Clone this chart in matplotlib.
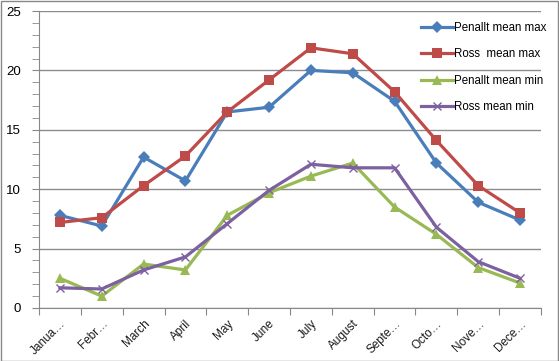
import matplotlib
matplotlib.use("Agg")
import matplotlib.pyplot as plt
from matplotlib.patches import Rectangle
import numpy as np

months = ["Janua…", "Febr…", "March", "April", "May", "June", "July",
          "August", "Septe…", "Octo…", "Nove…", "Dece…"]
penallt_max = [7.8, 6.9, 12.7, 10.7, 16.5, 16.9, 20.0, 19.8, 17.4, 12.2, 8.9, 7.4]
ross_max = [7.2, 7.6, 10.3, 12.8, 16.5, 19.2, 21.9, 21.4, 18.2, 14.1, 10.3, 8.0]
penallt_min = [2.5, 1.0, 3.7, 3.2, 7.8, 9.7, 11.1, 12.2, 8.5, 6.2, 3.4, 2.1]
ross_min = [1.7, 1.6, 3.2, 4.3, 7.1, 9.9, 12.1, 11.8, 11.8, 6.8, 3.9, 2.5]

series = [
    ("Penallt mean max", penallt_max, "#4A7EBB", "D", 6),
    ("Ross  mean max", ross_max, "#BE4B48", "s", 7),
    ("Penallt mean min", penallt_min, "#98B954", "^", 7.5),
    ("Ross mean min", ross_min, "#7D60A0", "x", 6),
]

plt.rcParams['font.family'] = ['Liberation Sans', 'DejaVu Sans']

W, H = 559, 361
fig = plt.figure(figsize=(W / 100, H / 100), dpi=100)
fig.patches.append(Rectangle((0.5 / W, 0.5 / H), 1 - 1.5 / W, 1 - 1.5 / H,
                             transform=fig.transFigure, fill=False,
                             edgecolor="#888888", lw=1))

left, right, top, bottom = 39, 541, 11, 308
ax = fig.add_axes([left / W, 1 - bottom / H, (right - left) / W, (bottom - top) / H])

x = np.arange(len(months)) + 0.5
for name, vals, col, mk, ms in series:
    kw = dict(markeredgewidth=1.0) if mk == "x" else dict(markeredgewidth=0)
    ax.plot(x, vals, color=col, lw=2.3, marker=mk, markersize=ms,
            markerfacecolor=col, markeredgecolor=col, label=name, **kw)

ax.set_xlim(0, 12)
ax.set_ylim(0, 25)
ax.set_yticks(np.arange(0, 26, 5))
ax.set_yticks(np.arange(0, 26, 1), minor=True)
ax.set_xticks(np.arange(0, 13, 1))
ax.set_xticklabels([])
ax.set_xticks(x, minor=True)
ax.set_xticklabels(months, minor=True, rotation=45, ha="right",
                   rotation_mode="anchor", fontsize=8.5, color="#1a1a1a")
ax.tick_params(axis="x", which="minor", length=0, pad=7)
ax.tick_params(axis="x", which="major", length=5, direction="out", color="#888888")
ax.tick_params(axis="y", which="major", length=5, direction="out", color="#888888",
               labelsize=9.5, pad=8)
ax.tick_params(axis="y", which="minor", length=5, direction="out", color="#888888")
ax.yaxis.grid(True, which="major", color="#8c8c8c", lw=1)
ax.set_axisbelow(True)
for s in ["top", "right"]:
    ax.spines[s].set_visible(False)
for s in ["left", "bottom"]:
    ax.spines[s].set_color("#888888")

leg = ax.legend(loc="upper left", bbox_to_anchor=((421 - left) / (right - left), (bottom - 22) / (bottom - top)),
                frameon=False, fontsize=8.3, handlelength=2.8, handletextpad=0.1,
                labelspacing=1.25, borderaxespad=0, borderpad=0)

fig.savefig("out.png", dpi=100)
